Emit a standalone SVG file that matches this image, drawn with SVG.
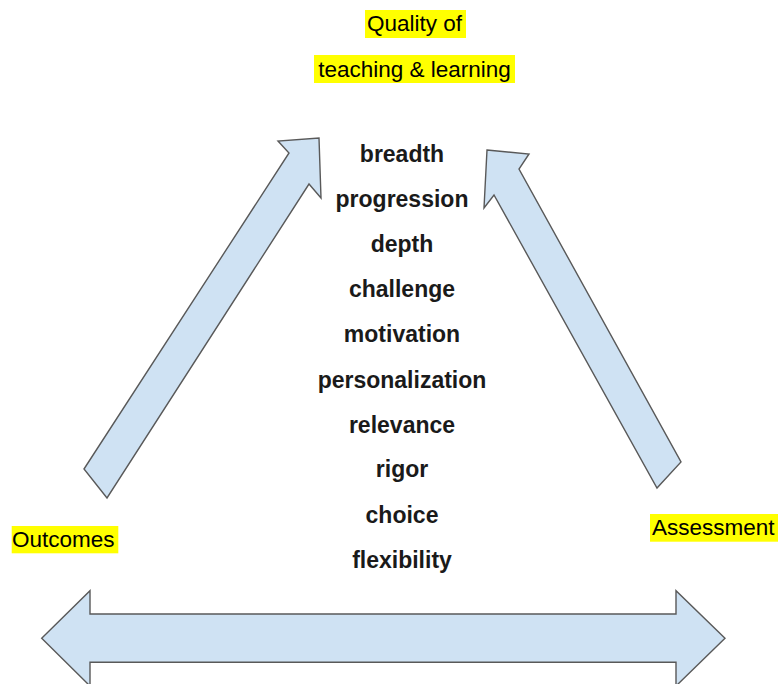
<svg xmlns="http://www.w3.org/2000/svg" width="778" height="684" viewBox="0 0 778 684">
<style>
.arrow{fill:#cfe2f3;stroke:#595959;stroke-width:1.4;stroke-linejoin:miter}
.hl{fill:#ffff00}
.lbl{font-family:"Liberation Sans",Arial,sans-serif;font-size:22.5px;fill:#000}
.item{font-family:"Liberation Sans",Arial,sans-serif;font-size:23px;font-weight:bold;fill:#1a1a1a;text-anchor:middle}
</style>
<rect width="778" height="684" fill="#ffffff"/>
<g id="connectors">
<polygon class="arrow" points="84,469 289,153 278,141 319,138 321,198 309,184 107,498"/>
<polygon class="arrow" points="487,150 529,154 519,169 681,462 657,488 494,195 484,208"/>
<polygon class="arrow" points="41.7,638.3 90,590.7 90,614 676,614 676,590.7 725,638.3 676,686 676,662.3 90,662.3 90,686"/>
</g>
<g id="quality">
<rect class="hl" x="365" y="10" width="101" height="28"/>
<rect class="hl" x="314" y="55" width="201" height="28"/>
<text class="lbl" x="414.5" y="31" text-anchor="middle">Quality of</text>
<text class="lbl" x="414.5" y="77" text-anchor="middle">teaching &amp; learning</text>
</g>
<g id="outcomes">
<rect class="hl" x="11.7" y="526" width="106.6" height="27.3"/>
<text class="lbl" x="12" y="547">Outcomes</text>
</g>
<g id="assessment">
<rect class="hl" x="650" y="514" width="128" height="27.7"/>
<text class="lbl" x="652" y="535">Assessment</text>
</g>
<g id="factors">
<text class="item" x="402" y="162">breadth</text>
<text class="item" x="402" y="207">progression</text>
<text class="item" x="402" y="252">depth</text>
<text class="item" x="402" y="297">challenge</text>
<text class="item" x="402" y="342">motivation</text>
<text class="item" x="402" y="388">personalization</text>
<text class="item" x="402" y="433">relevance</text>
<text class="item" x="402" y="477">rigor</text>
<text class="item" x="402" y="523">choice</text>
<text class="item" x="402" y="568">flexibility</text>
</g>
</svg>
